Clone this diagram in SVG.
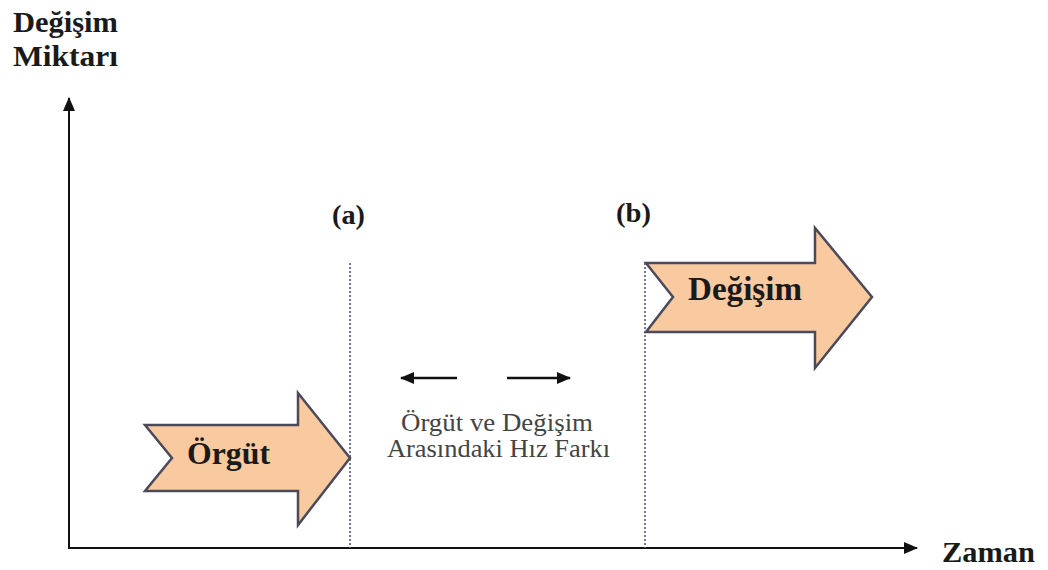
<svg xmlns="http://www.w3.org/2000/svg" width="1048" height="570" viewBox="0 0 1048 570">
<style>
.bold{font-family:"Liberation Serif","Times New Roman",serif;font-weight:bold;fill:#1a1a1a}
.reg{font-family:"Liberation Serif","Times New Roman",serif;fill:#444;font-size:25px}
.axis{stroke:#111;stroke-width:2;fill:none}
.sm{stroke:#111;stroke-width:2.5;fill:none}
.dot{stroke:#4a5a8a;stroke-width:1.6;stroke-dasharray:2 2;fill:none}
.blk{fill:#f9c9a0;stroke:#4a4a5a;stroke-width:2.5;stroke-linejoin:miter}
</style>
<defs>
<marker id="ah2" markerWidth="14" markerHeight="12" refX="13" refY="6" orient="auto" markerUnits="userSpaceOnUse" viewBox="0 0 14 12">
<path d="M0,0 L14,6 L0,12 z" fill="#111"/>
</marker>
</defs>
<g id="connectors">
<line class="axis" x1="69" y1="549" x2="69" y2="98" marker-end="url(#ah2)"/>
<line class="axis" x1="68" y1="548" x2="917" y2="548" marker-end="url(#ah2)"/>
<line class="dot" x1="350" y1="263" x2="350" y2="548"/>
<line class="dot" x1="645" y1="263" x2="645" y2="548"/>
<line class="sm" x1="457" y1="378" x2="401" y2="378" marker-end="url(#ah2)"/>
<line class="sm" x1="507" y1="378" x2="570" y2="378" marker-end="url(#ah2)"/>
</g>
<g id="y-label">
<text class="bold" x="13" y="32" font-size="30" textLength="105" lengthAdjust="spacingAndGlyphs">Değişim</text>
<text class="bold" x="13" y="66" font-size="30" textLength="105" lengthAdjust="spacingAndGlyphs">Miktarı</text>
</g>
<g id="x-label">
<text class="bold" x="942" y="562" font-size="30" textLength="93" lengthAdjust="spacingAndGlyphs">Zaman</text>
</g>
<g id="label-a"><text class="bold" x="332" y="224" font-size="28" textLength="33" lengthAdjust="spacingAndGlyphs">(a)</text></g>
<g id="label-b"><text class="bold" x="616" y="222" font-size="28" textLength="35" lengthAdjust="spacingAndGlyphs">(b)</text></g>
<g id="orgut">
<polygon class="blk" points="145,425 298,425 298,393 350,458 298,525 298,491 145,491 172,458"/>
<text class="bold" x="187" y="464" font-size="32" textLength="83" lengthAdjust="spacingAndGlyphs">Örgüt</text>
</g>
<g id="degisim">
<polygon class="blk" points="646,263 815,263 815,228 872,297 815,368 815,332 646,332 673,297"/>
<text class="bold" x="688" y="300" font-size="33" textLength="114" lengthAdjust="spacingAndGlyphs">Değişim</text>
</g>
<g id="speed-label">
<text class="reg" x="401" y="431" textLength="192" lengthAdjust="spacingAndGlyphs">Örgüt ve Değişim</text>
<text class="reg" x="387" y="457" textLength="223" lengthAdjust="spacingAndGlyphs">Arasındaki Hız Farkı</text>
</g>
</svg>
